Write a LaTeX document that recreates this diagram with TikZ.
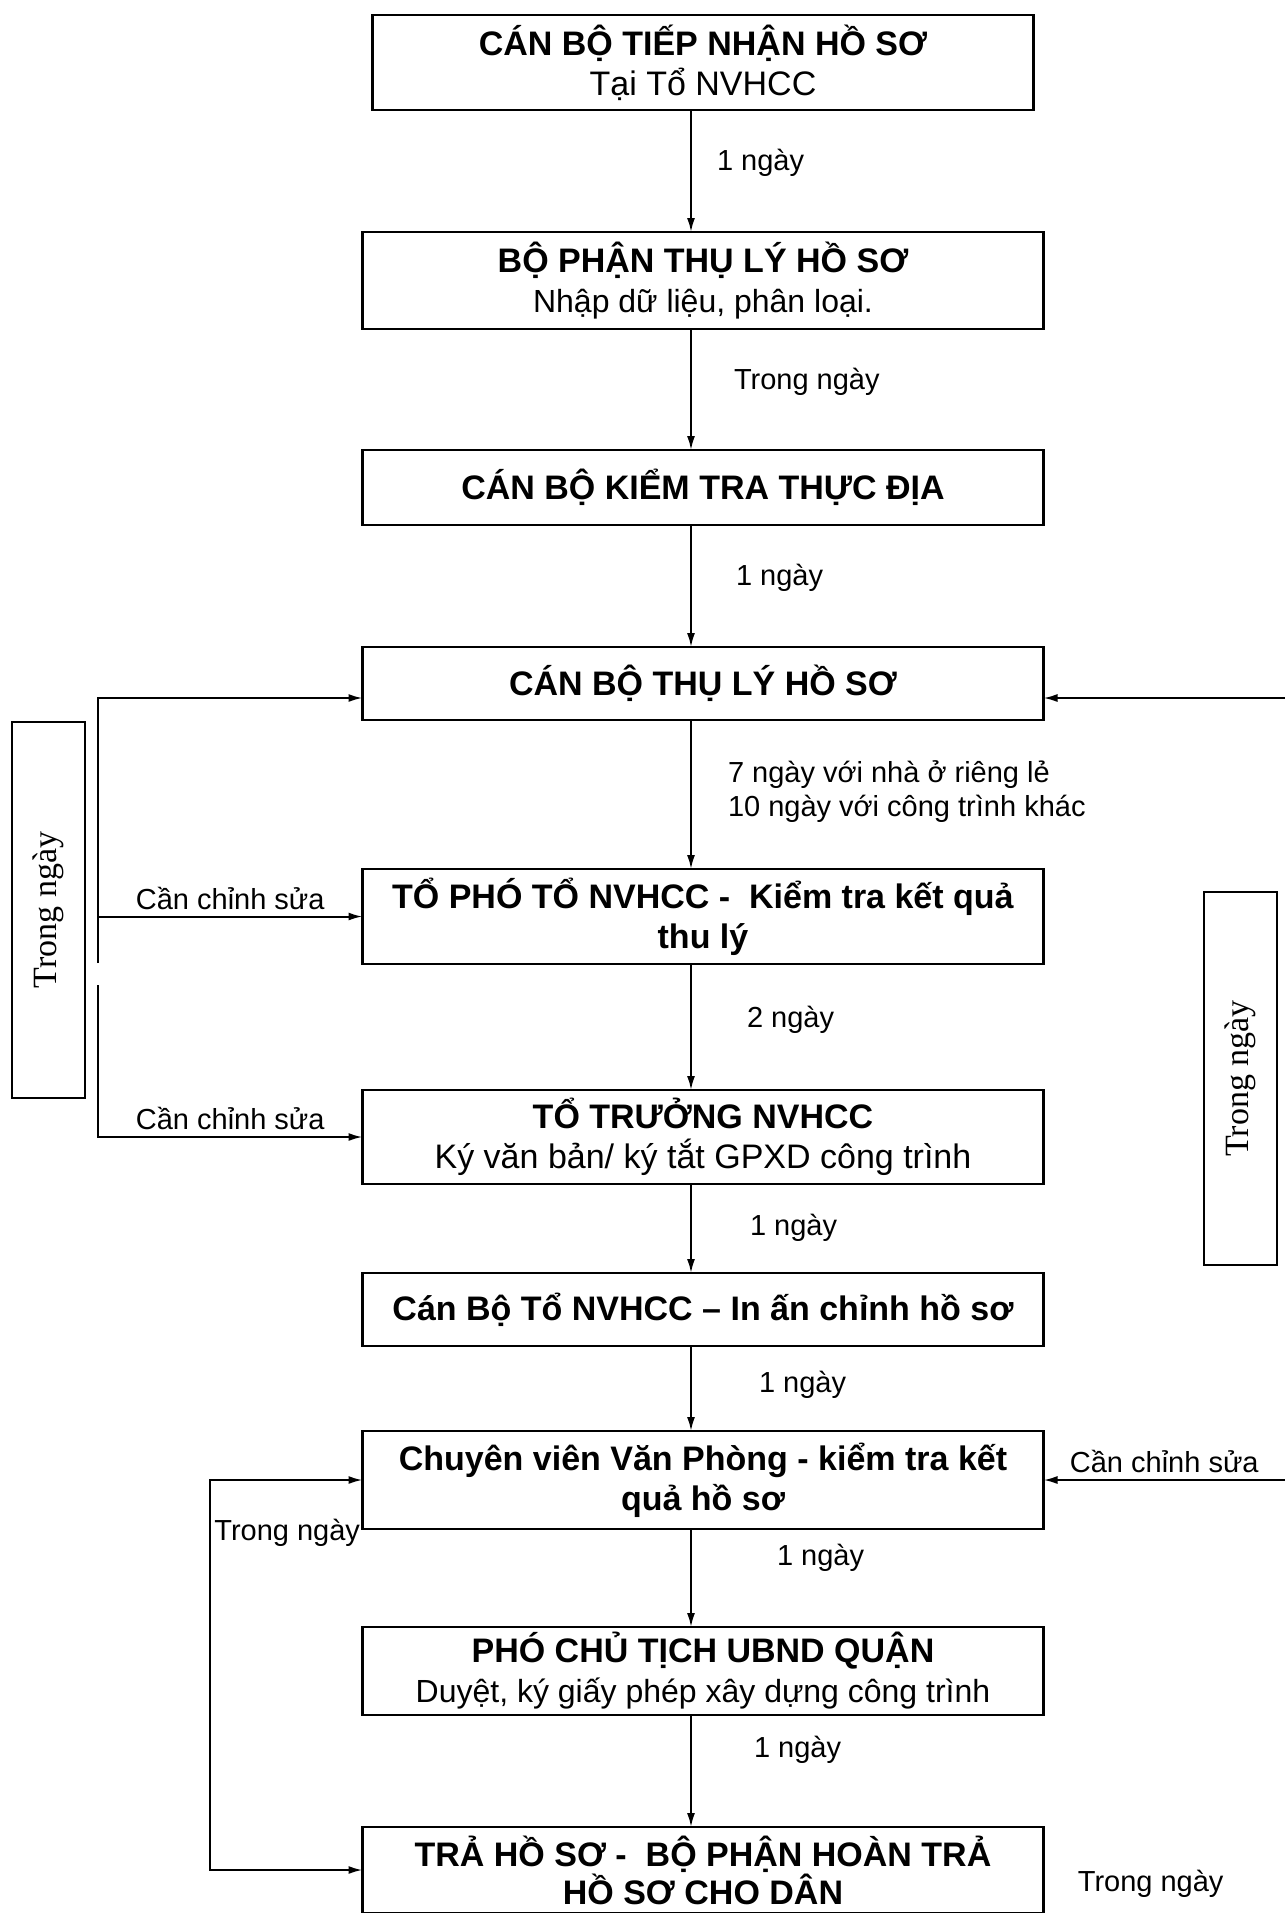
\documentclass[tikz,border=0pt]{standalone}
\usepackage{fontspec}
\setmainfont{Liberation Sans}
\newfontfamily\timesfont{Liberation Serif}
\usetikzlibrary{positioning,arrows.meta}

\begin{document}
\begin{tikzpicture}[
  x=0.5pt, y=-0.5pt,
  box/.style={draw, line width=1.2pt, align=center, outer sep=0pt, inner sep=2pt,
              font=\fontsize{17}{20}\selectfont, minimum width=340.5pt},
  side/.style={draw, line width=1pt, rotate=90, outer sep=0pt, minimum height=36.5pt,
               font=\timesfont\fontsize{17}{20}\selectfont},
  arr/.style={-{Latex[length=7pt,width=4pt]}, line width=1pt},
  both/.style={{Latex[length=7pt,width=4pt]}-{Latex[length=7pt,width=4pt]}, line width=1pt},
  lab/.style={font=\fontsize{14.5}{17}\selectfont, align=left, inner sep=1pt}
]
\useasboundingbox (0,0) rectangle (1285,1913);
% main column
\node[box, minimum width=330.5pt, minimum height=47.5pt] (b1) at (703,62.5)
  {\textbf{CÁN BỘ TIẾP NHẬN HỒ SƠ}\\Tại Tổ NVHCC};
\node[box, minimum height=48.5pt, below=61pt of b1] (b2)
  {\textbf{BỘ PHẬN THỤ LÝ HỒ SƠ}\\{\fontsize{16}{20}\selectfont Nhập dữ liệu, phân loại.}};
\node[box, minimum height=37.5pt, below=60.5pt of b2] (b3) {\textbf{CÁN BỘ KIỂM TRA THỰC ĐỊA}};
\node[box, minimum height=36.5pt, below=61pt of b3] (b4) {\textbf{CÁN BỘ THỤ LÝ HỒ SƠ}};
\node[box, minimum height=47.5pt, below=74.5pt of b4] (b5)
  {\textbf{TỔ PHÓ TỔ NVHCC -\ \ Kiểm tra kết quả}\\\textbf{thu lý}};
\node[box, minimum height=47pt, below=63pt of b5] (b6)
  {\textbf{TỔ TRƯỞNG NVHCC}\\Ký văn bản/ ký tắt GPXD công trình};
\node[box, minimum height=36.5pt, below=44.5pt of b6] (b7) {\textbf{Cán Bộ Tổ NVHCC – In ấn chỉnh hồ sơ}};
\node[box, minimum height=49pt, below=42.5pt of b7] (b8)
  {\textbf{Chuyên viên Văn Phòng - kiểm tra kết}\\\textbf{quả hồ sơ}};
\node[box, minimum height=44pt, below=49pt of b8] (b9)
  {\textbf{PHÓ CHỦ TỊCH UBND QUẬN}\\{\fontsize{16}{20}\selectfont Duyệt, ký giấy phép xây dựng công trình}};
\node[box, minimum height=43pt, below=56pt of b9, font=\fontsize{17}{19}\selectfont] (b10)
  {\textbf{TRẢ HỒ SƠ -\ \ BỘ PHẬN HOÀN TRẢ}\\\textbf{HỒ SƠ CHO DÂN}};
% side notes
\node[side, minimum width=188pt] (noteL) at (48.5,910) {Trong ngày};
\node[side, minimum width=186.5pt] (noteR) at (1240,1078.5) {Trong ngày};
\node[lab, anchor=west] (tnL) at (212,1533) {Trong ngày};
\node[lab, right=16pt of b10, yshift=-7pt] (tnR) {Trong ngày};
% free ends
\coordinate (spine) at (691,0);
\coordinate (gapA) at (98,963);
\coordinate (gapB) at (98,985);
\coordinate (edgeR4) at (1285,698);
\coordinate (edgeR8) at (1285,1480);
\coordinate (loopL) at (210,0);
% flow
\draw[arr] (b1.south -| spine) -- node[lab, right=11.5pt, pos=0.43]{1 ngày} (b2.north -| spine);
\draw[arr] (b2.south -| spine) -- node[lab, right=20pt, pos=0.44]{Trong ngày} (b3.north -| spine);
\draw[arr] (b3.south -| spine) -- node[lab, right=21pt, pos=0.43]{1 ngày} (b4.north -| spine);
\draw[arr] (b4.south -| spine) -- node[lab, right=17pt, pos=0.48]{7 ngày với nhà ở riêng lẻ\\10 ngày với công trình khác} (b5.north -| spine);
\draw[arr] (b5.south -| spine) -- node[lab, right=26.5pt, pos=0.44]{2 ngày} (b6.north -| spine);
\draw[arr] (b6.south -| spine) -- node[lab, right=28pt, pos=0.49]{1 ngày} (b7.north -| spine);
\draw[arr] (b7.south -| spine) -- node[lab, right=32.5pt, pos=0.46]{1 ngày} (b8.north -| spine);
\draw[arr] (b8.south -| spine) -- node[lab, right=41.5pt, pos=0.29]{1 ngày} (b9.north -| spine);
\draw[arr] (b9.south -| spine) -- node[lab, right=30pt, pos=0.31]{1 ngày} (b10.north -| spine);
% returns
\draw[arr] (gapA) |- (b4.west |- edgeR4);
\draw[arr] (gapA |- b5.west) -- node[lab, above=2pt]{Cần chỉnh sửa} (b5.west);
\draw[arr] (gapB) |- node[lab, above=2pt, pos=0.75]{Cần chỉnh sửa} (b6.west);
\draw[arr] (edgeR4) -- (b4.east |- edgeR4);
\draw[arr] (edgeR8) -- node[lab, above=2pt]{Cần chỉnh sửa} (b8.east);
\draw[both] (b8.west) -| (loopL |- b10.west) -- (b10.west);
\end{tikzpicture}
\end{document}
